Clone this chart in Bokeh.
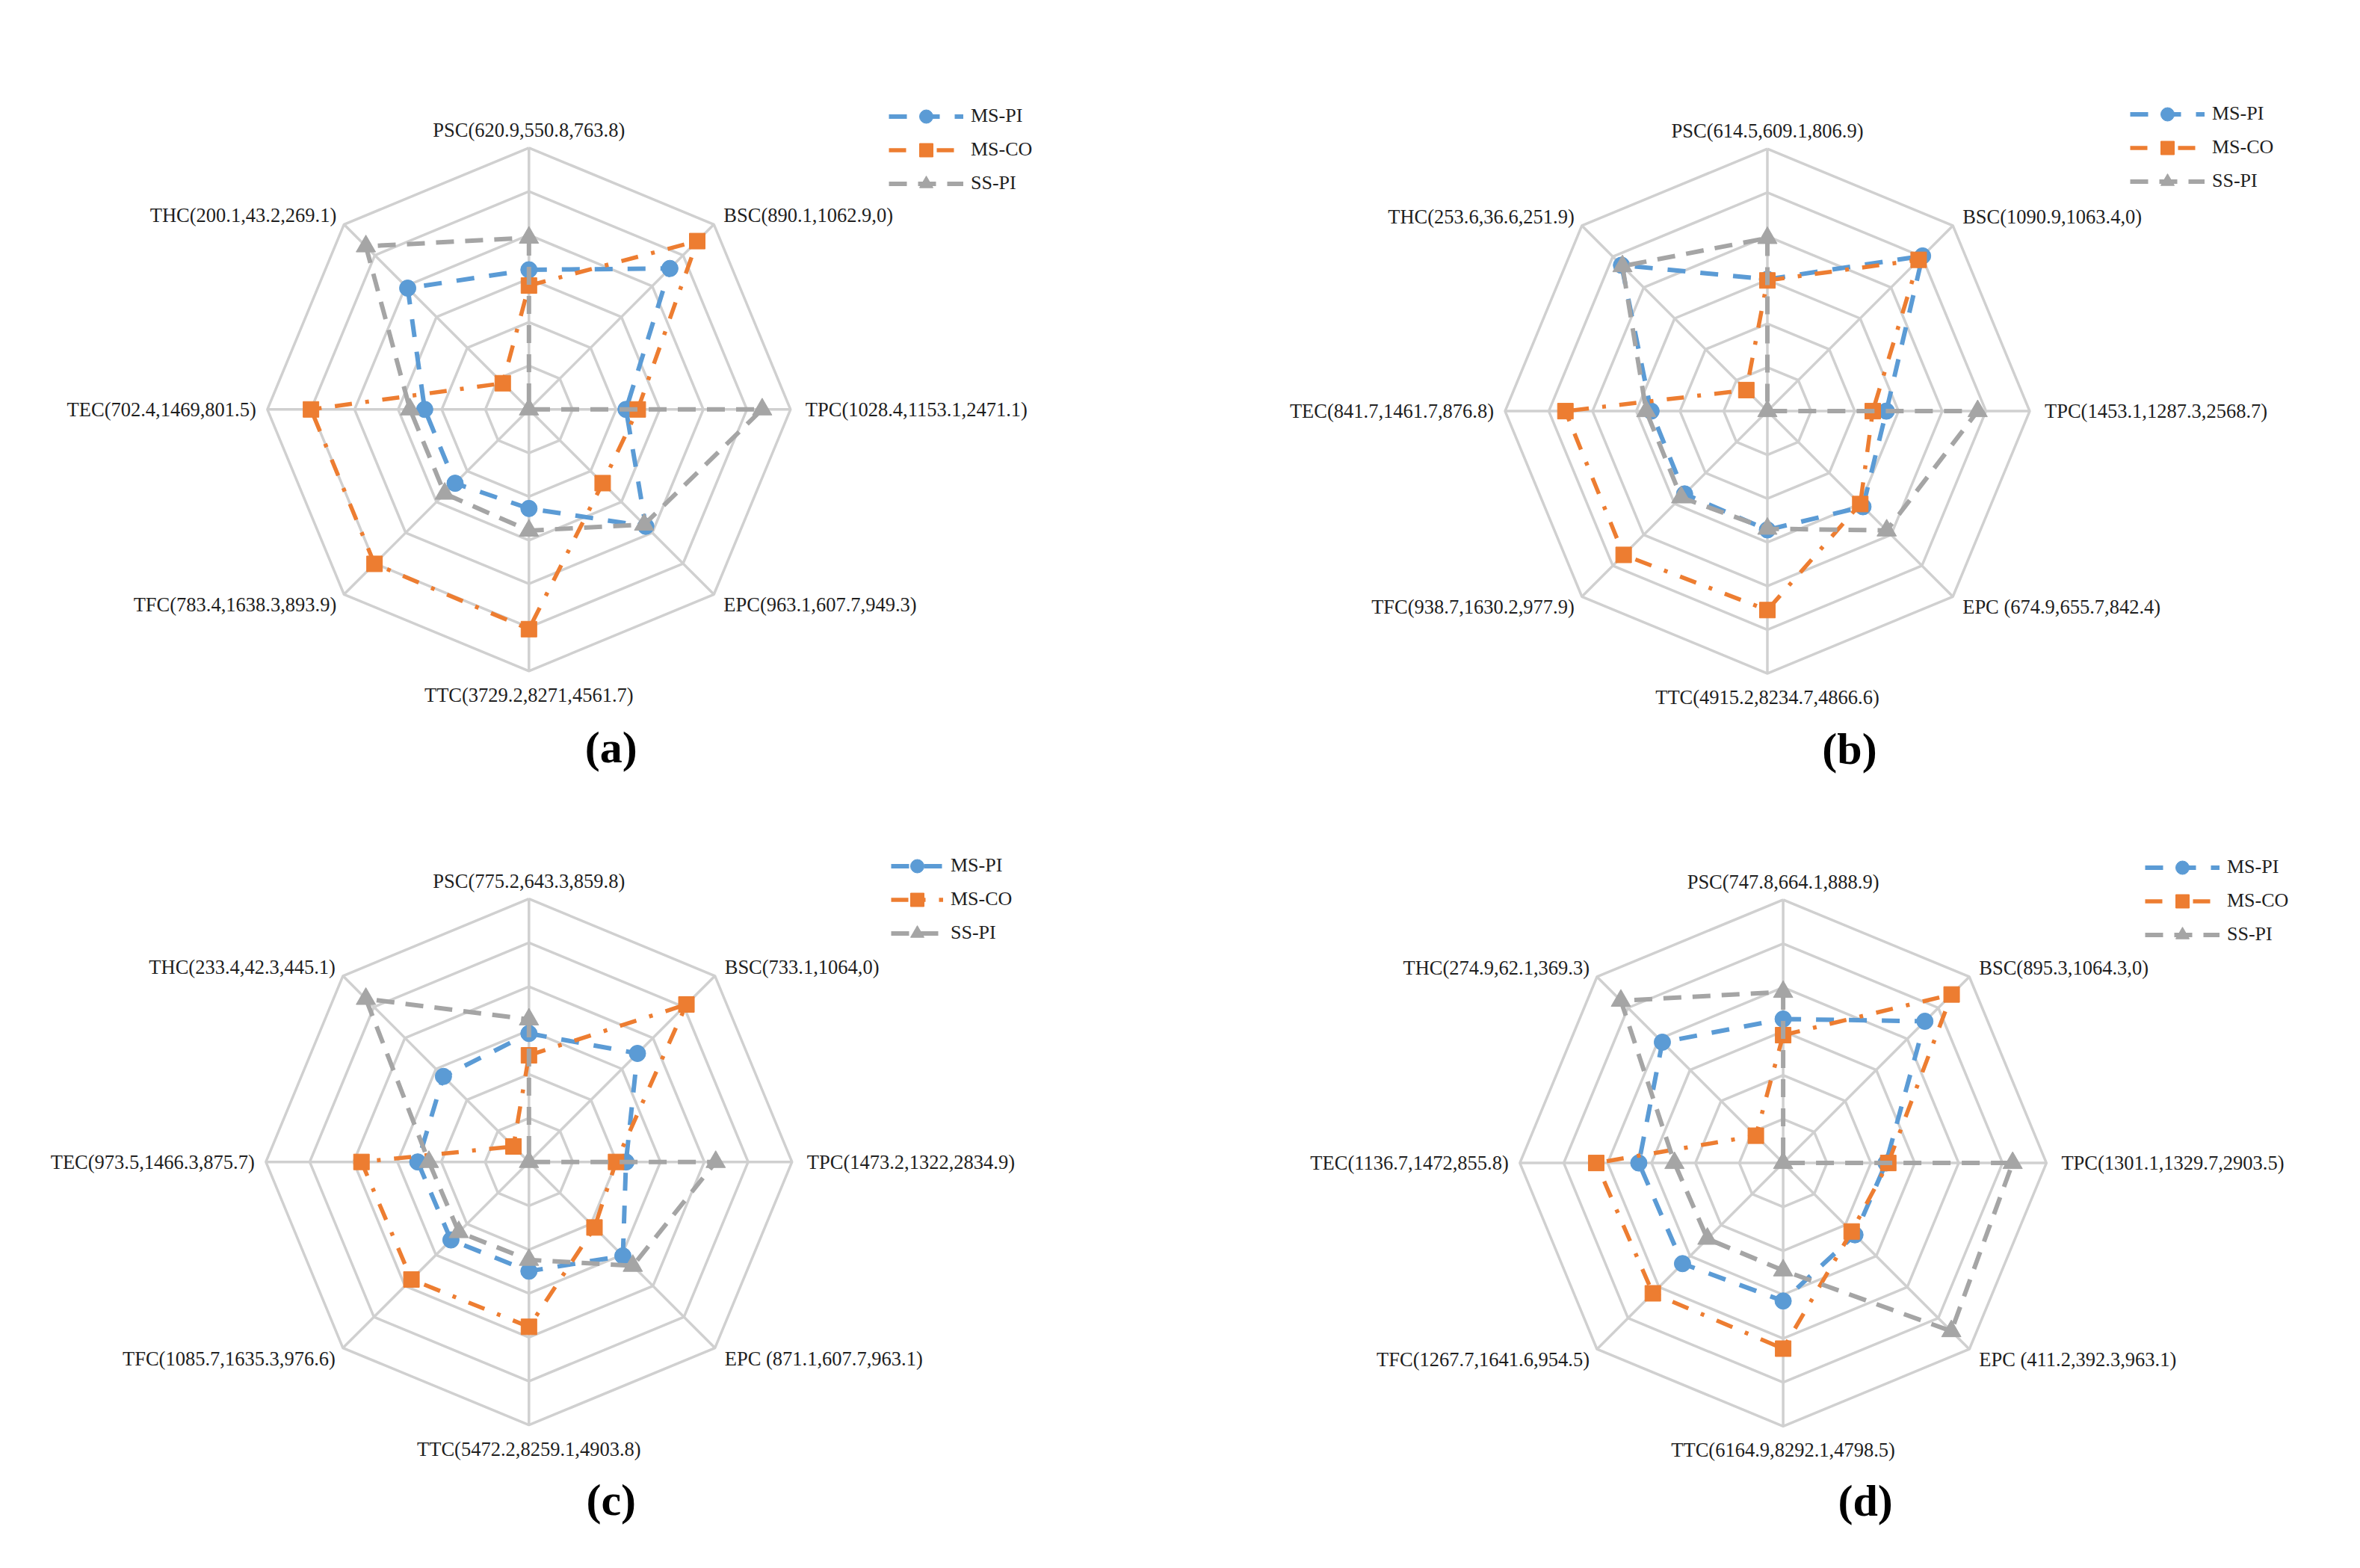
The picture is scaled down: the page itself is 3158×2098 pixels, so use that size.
import math
from bokeh.plotting import figure
from bokeh.models import Range1d, Legend, LegendItem, ColumnDataSource
from bokeh.layouts import gridplot
from bokeh.embed import file_html
from bokeh.resources import INLINE
from bokeh.core.properties import value

# ---------------- data ----------------
series_names = ["MS-PI", "MS-CO", "SS-PI"]
axis_names = ["PSC", "BSC", "TPC", "EPC", "TTC", "TFC", "TEC", "THC"]
axis_names_bcd = ["PSC", "BSC", "TPC", "EPC ", "TTC", "TFC", "TEC", "THC"]

# panel (a)
a_ms_pi = [620.9, 890.1, 1028.4, 963.1, 3729.2, 783.4, 702.4, 200.1]
a_ms_co = [550.8, 1062.9, 1153.1, 607.7, 8271, 1638.3, 1469, 43.2]
a_ss_pi = [763.8, 0, 2471.1, 949.3, 4561.7, 893.9, 801.5, 269.1]
# plotted radius (grid rings, 0-6) of the largest value on each axis
a_axis_top = [3.94, 5.46, 5.35, 3.79, 5.04, 5.01, 5.00, 5.29]

# panel (b)
b_ms_pi = [614.5, 1090.9, 1453.1, 674.9, 4915.2, 938.7, 841.7, 253.6]
b_ms_co = [609.1, 1063.4, 1287.3, 655.7, 8234.7, 1630.2, 1461.7, 36.6]
b_ss_pi = [806.9, 0, 2568.7, 842.4, 4866.6, 977.9, 876.8, 251.9]
b_axis_top = [3.96, 5.02, 4.81, 3.86, 4.55, 4.65, 4.62, 4.72]

# panel (c)
c_ms_pi = [775.2, 733.1, 1473.2, 871.1, 5472.2, 1085.7, 973.5, 233.4]
c_ms_co = [643.3, 1064, 1322, 607.7, 8259.1, 1635.3, 1466.3, 42.3]
c_ss_pi = [859.8, 0, 2834.9, 963.1, 4903.8, 976.6, 875.7, 445.1]
c_axis_top = [3.25, 5.08, 4.26, 3.35, 3.76, 3.79, 3.82, 5.26]

# panel (d)
d_ms_pi = [747.8, 895.3, 1301.1, 411.2, 6164.9, 1267.7, 1136.7, 274.9]
d_ms_co = [664.1, 1064.3, 1329.7, 392.3, 8292.1, 1641.6, 1472, 62.1]
d_ss_pi = [888.9, 0, 2903.5, 963.1, 4798.5, 954.5, 855.8, 369.3]
d_axis_top = [3.90, 5.43, 5.23, 5.42, 4.23, 4.20, 4.26, 5.23]

captions = ["(a)", "(b)", "(c)", "(d)"]

# ---------------- style ----------------
COLORS = ["#5B9BD5", "#ED7D31", "#A5A5A5"]
MARKERS = ["circle", "square", "triangle"]
MSIZES = [22, 21, 26]
DASHES = ["24 20", "23 18 5 18", "24 15"]
LWIDTHS = [6, 5.5, 6]
GRID_COLOR = "#d0d0d0"
TEXT_COLOR = "#1e1e1e"
N_RINGS = 6
FIG_W, FIG_H = 1579, 1049

ANGLES = [math.radians(90 - 45 * k) for k in range(8)]
# label offsets in screen px (x right, y down) from the outer vertex, and alignment
LABEL_OFFS = [(0, -24, "center"), (13, -12, "left"), (20, 0, "left"), (13, 14, "left"),
              (0, 32, "center"), (-10, 14, "right"), (-15, 0, "right"), (-10, -12, "right")]


def fmt(v):
    return f"{v:g}"


def make_panel(vals, axis_top, names, caption, center_px, radius_px, legend_px, glyph_w):
    unit = radius_px / N_RINGS
    cx, cy = center_px
    x0 = -cx / unit
    x1 = (FIG_W - cx) / unit
    y1 = cy / unit
    y0 = -(FIG_H - cy) / unit
    p = figure(width=FIG_W, height=FIG_H, x_range=Range1d(x0, x1), y_range=Range1d(y0, y1),
               output_backend="svg", toolbar_location=None, x_axis_type=None, y_axis_type=None,
               min_border=0, min_border_left=0, min_border_right=0, min_border_top=0,
               min_border_bottom=0, outline_line_color=None,
               background_fill_color="white", border_fill_color="white")

    # grid rings and spokes
    ring_xs, ring_ys = [], []
    for r in range(1, N_RINGS + 1):
        ring_xs.append([r * math.cos(a) for a in ANGLES + [ANGLES[0]]])
        ring_ys.append([r * math.sin(a) for a in ANGLES + [ANGLES[0]]])
    for a in ANGLES:
        ring_xs.append([0, N_RINGS * math.cos(a)])
        ring_ys.append([0, N_RINGS * math.sin(a)])
    p.multi_line(ring_xs, ring_ys, line_color=GRID_COLOR, line_width=3.5)

    # series
    items = []
    for s in range(3):
        xs, ys = [], []
        for k in range(8):
            mx = max(vals[0][k], vals[1][k], vals[2][k])
            r = vals[s][k] / mx * axis_top[k] if mx > 0 else 0.0
            xs.append(r * math.cos(ANGLES[k]))
            ys.append(r * math.sin(ANGLES[k]))
        lr = p.line(xs + [xs[0]], ys + [ys[0]], line_color=COLORS[s], line_width=LWIDTHS[s],
                    line_dash=DASHES[s])
        sr = p.scatter(xs, ys, marker=MARKERS[s], size=MSIZES[s], fill_color=COLORS[s],
                       line_color=COLORS[s])
        items.append(LegendItem(label=series_names[s], renderers=[lr, sr]))

    # axis labels
    lx, ly, la = [], [], []
    texts = []
    for k in range(8):
        ox, oy, al = LABEL_OFFS[k]
        lx.append(N_RINGS * math.cos(ANGLES[k]) + ox / unit)
        ly.append(N_RINGS * math.sin(ANGLES[k]) - oy / unit)
        la.append(al)
        texts.append(f"{names[k]}({fmt(vals[0][k])},{fmt(vals[1][k])},{fmt(vals[2][k])})")
    src = ColumnDataSource(dict(x=lx, y=ly, t=texts, a=la))
    p.text(x="x", y="y", text="t", text_align="a", text_baseline="middle", source=src,
           text_font=value("Liberation Serif"), text_font_size="26.5px", text_color=TEXT_COLOR)

    # caption
    p.text(x=[110 / unit], y=[-452 / unit], text=[caption], text_align="center",
           text_baseline="middle", text_font=value("Liberation Serif"), text_font_style="bold",
           text_font_size="60px", text_color="#000000")

    # legend
    lgx, lg_top = legend_px
    leg_h = 3 * 45
    legend = Legend(items=items, location=(lgx, FIG_H - lg_top - leg_h), orientation="vertical",
                    glyph_width=glyph_w, glyph_height=45, label_height=45, spacing=0,
                    padding=0, margin=0, border_line_alpha=0, background_fill_alpha=0,
                    label_text_font="Liberation Serif", label_text_font_size="26px",
                    label_text_color=TEXT_COLOR, label_standoff=10)
    p.add_layout(legend)
    return p


pa = make_panel([a_ms_pi, a_ms_co, a_ss_pi], a_axis_top, axis_names, captions[0],
                (707.3, 547.3), 350.0, (1189, 132.5), 100)
pb = make_panel([b_ms_pi, b_ms_co, b_ss_pi], b_axis_top, axis_names_bcd, captions[1],
                (785.5, 549.6), 351.0, (1271, 129.5), 100)
pc = make_panel([c_ms_pi, c_ms_co, c_ss_pi], c_axis_top, axis_names_bcd, captions[2],
                (707.3, 505.2), 352.0, (1192, 86.5), 70)
pd = make_panel([d_ms_pi, d_ms_co, d_ss_pi], d_axis_top, axis_names_bcd, captions[3],
                (806.6, 506.6), 352.3, (1291, 88.5), 100)

grid = gridplot([[pa, pb], [pc, pd]], toolbar_location=None)
open("out.html", "w").write(file_html(grid, INLINE))
